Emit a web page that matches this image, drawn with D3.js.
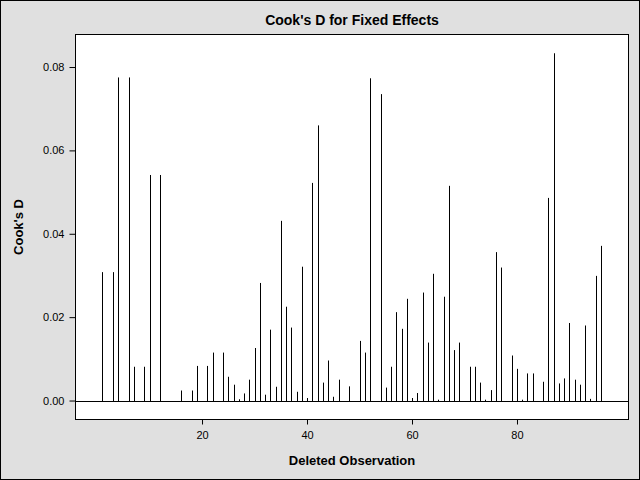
<!DOCTYPE html>
<html><head><meta charset="utf-8">
<script src="https://cdn.jsdelivr.net/npm/d3@7"></script>
<style>body{margin:0;background:#e0e0e0;}svg{display:block;}</style>
</head><body>
<script>
const observations = d3.range(1, 97);
const cooksD = [
 0.0308,0,0.0308,0.0775,0,0.0775,0.0081,0,0.0081,0.0541,
 0,0.0541,0,0,0,0.0024,0,0.0024,0.0083,0,
 0.0083,0.0115,0,0.0115,0.0057,0.0038,0.0003,0.0017,0.0050,0.0126,
 0.0282,0.0014,0.0170,0.0033,0.0431,0.0225,0.0175,0.0021,0.0321,0.0006,
 0.0522,0.0660,0.0043,0.0096,0.0009,0.0050,0,0.0034,0,0.0143,
 0.0115,0.0773,0,0.0735,0.0031,0.0081,0.0212,0.0172,0.0244,0.0006,
 0.0018,0.0259,0.0139,0.0304,0.0002,0.0249,0.0515,0.0121,0.0139,0,
 0.0081,0.0081,0.0043,0.0002,0.0025,0.0356,0.0319,0,0.0108,0.0076,
 0.0002,0.0065,0.0065,0,0.0045,0.0486,0.0833,0.0041,0.0053,0.0186,
 0.0050,0.0038,0.0180,0.0004,0.0299,0.0371
];
const xTicks = [20, 40, 60, 80];
const yTicks = [0, 0.02, 0.04, 0.06, 0.08];
const title = "Cook's D for Fixed Effects";
const xLabel = "Deleted Observation";
const yLabel = "Cook's D";

const W = 640, H = 480;
const L = 75.5, R = 628.5, T = 34.5, B = 419.5;
const svg = d3.select("body").append("svg").attr("width", W).attr("height", H);
svg.append("rect").attr("x",0.5).attr("y",0.5).attr("width",W-1).attr("height",H-1)
  .attr("fill","#e0e0e0").attr("stroke","#000");

const x = d3.scaleLinear().domain([-4.1, 101.24]).range([L, R]);
const y = d3.scaleLinear().domain([-0.00455, 0.0878]).range([B, T]);

svg.append("rect").attr("x",L).attr("y",T).attr("width",R-L).attr("height",B-T)
  .attr("fill","#fff").attr("stroke","#000").attr("stroke-width",1);

const font = "'Liberation Sans', Arial, sans-serif";

const xAxis = svg.append("g").attr("transform",`translate(0,${B})`)
  .call(d3.axisBottom(x).tickValues(xTicks).tickSize(5).tickPadding(7).tickFormat(d3.format("d")));
xAxis.select(".domain").remove();
xAxis.selectAll("text").attr("font-family",font).attr("font-size",11).attr("fill","#000");

const yAxis = svg.append("g").attr("transform",`translate(${L},0)`)
  .call(d3.axisLeft(y).tickValues(yTicks).tickSize(6).tickPadding(5).tickFormat(d3.format(".2f")));
yAxis.select(".domain").remove();
yAxis.selectAll("text").attr("font-family",font).attr("font-size",11).attr("fill","#000");

// zero reference line
svg.append("line").attr("x1",L).attr("x2",R)
  .attr("y1",Math.round(y(0))+0.5).attr("y2",Math.round(y(0))+0.5)
  .attr("stroke","#000").attr("stroke-width",1);

svg.append("g").selectAll("line").data(observations.map((o,i)=>({o, v:cooksD[i]})).filter(d=>d.v>0))
  .join("line")
  .attr("x1",d=>Math.round(x(d.o))+0.5).attr("x2",d=>Math.round(x(d.o))+0.5)
  .attr("y1",Math.round(y(0))+0.5).attr("y2",d=>y(d.v))
  .attr("stroke","#000").attr("stroke-width",1);

svg.append("text").attr("x",(L+R)/2).attr("y",25).attr("text-anchor","middle")
  .attr("font-family",font).attr("font-weight","bold").attr("font-size",14).text(title);
svg.append("text").attr("x",(L+R)/2).attr("y",465).attr("text-anchor","middle")
  .attr("font-family",font).attr("font-weight","bold").attr("font-size",13).text(xLabel);
svg.append("text").attr("transform",`translate(23,${(T+B)/2}) rotate(-90)`).attr("text-anchor","middle")
  .attr("font-family",font).attr("font-weight","bold").attr("font-size",13).text(yLabel);
</script>
</body></html>
